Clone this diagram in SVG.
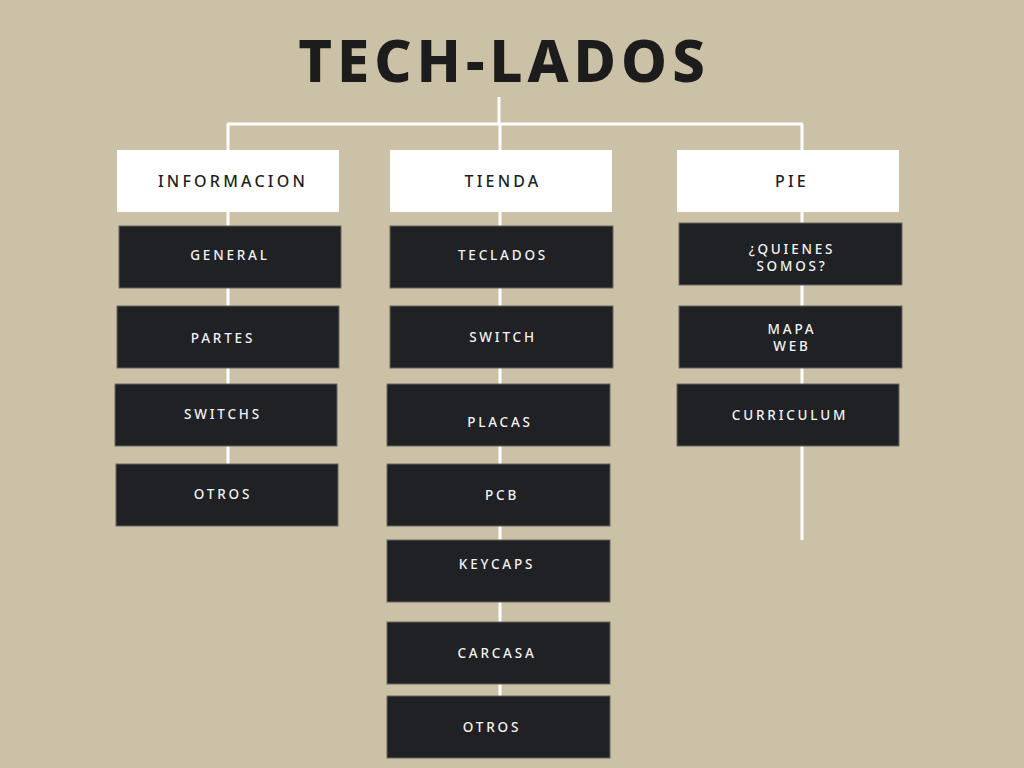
<svg xmlns="http://www.w3.org/2000/svg" width="1024" height="768" viewBox="0 0 1024 768">
  <style>
    .title { font-family: "Noto Sans", "Liberation Sans", sans-serif; font-weight: 800; font-size: 58px; letter-spacing: 5px; fill: #1c1c1c; }
    .head rect { fill: #ffffff; }
    .head text { font-family: "Noto Sans", "Liberation Sans", sans-serif; font-weight: 500; font-size: 16px; letter-spacing: 3.2px; fill: #1e1e22; text-anchor: middle; }
    .item rect { fill: #202125; stroke: #6a675e; stroke-width: 1; }
    .item text { font-family: "Noto Sans", "Liberation Sans", sans-serif; font-weight: 500; font-size: 13.5px; letter-spacing: 2.8px; fill: #f2f2f2; text-anchor: middle; }
    .wire { stroke: #ffffff; stroke-width: 3; fill: none; }
  </style>
  <rect width="1024" height="768" fill="#cbc1a6"/>

  <text class="title" x="504" y="82" text-anchor="middle">TECH-LADOS</text>

  <!-- connectors -->
  <g id="connectors">
    <line class="wire" x1="499" y1="97" x2="499" y2="124"/>
    <line class="wire" x1="227" y1="124" x2="803" y2="124"/>
    <line class="wire" x1="228" y1="124" x2="228" y2="524"/>
    <line class="wire" x1="500" y1="124" x2="500" y2="756"/>
    <line class="wire" x1="802" y1="124" x2="802" y2="540"/>
  </g>

  <!-- INFORMACION column -->
  <g id="informacion" class="head"><rect x="117" y="150" width="222" height="62"/><text x="233" y="187">INFORMACION</text></g>
  <g id="general" class="item"><rect x="119" y="226" width="222" height="62"/><text x="230" y="260">GENERAL</text></g>
  <g id="partes" class="item"><rect x="117" y="306" width="222" height="62"/><text x="223" y="343">PARTES</text></g>
  <g id="switchs" class="item"><rect x="115" y="384" width="222" height="62"/><text x="223" y="419">SWITCHS</text></g>
  <g id="otros-info" class="item"><rect x="116" y="464" width="222" height="62"/><text x="223" y="499">OTROS</text></g>

  <!-- TIENDA column -->
  <g id="tienda" class="head"><rect x="390" y="150" width="222" height="62"/><text x="503" y="187">TIENDA</text></g>
  <g id="teclados" class="item"><rect x="390" y="226" width="223" height="62"/><text x="503" y="260">TECLADOS</text></g>
  <g id="switch" class="item"><rect x="390" y="306" width="223" height="62"/><text x="503" y="342">SWITCH</text></g>
  <g id="placas" class="item"><rect x="387" y="384" width="223" height="62"/><text x="500" y="427">PLACAS</text></g>
  <g id="pcb" class="item"><rect x="387" y="464" width="223" height="62"/><text x="502" y="500">PCB</text></g>
  <g id="keycaps" class="item"><rect x="387" y="540" width="223" height="62"/><text x="497" y="569">KEYCAPS</text></g>
  <g id="carcasa" class="item"><rect x="387" y="622" width="223" height="62"/><text x="497" y="658">CARCASA</text></g>
  <g id="otros-tienda" class="item"><rect x="387" y="696" width="223" height="62"/><text x="492" y="732">OTROS</text></g>

  <!-- PIE column -->
  <g id="pie" class="head"><rect x="677" y="150" width="222" height="62"/><text x="792" y="187">PIE</text></g>
  <g id="quienes" class="item"><rect x="679" y="223" width="223" height="62"/><text x="792" y="254">¿QUIENES</text><text x="792" y="271">SOMOS?</text></g>
  <g id="mapa" class="item"><rect x="679" y="306" width="223" height="62"/><text x="792" y="334">MAPA</text><text x="792" y="351">WEB</text></g>
  <g id="curriculum" class="item"><rect x="677" y="384" width="222" height="62"/><text x="790" y="420">CURRICULUM</text></g>
</svg>
